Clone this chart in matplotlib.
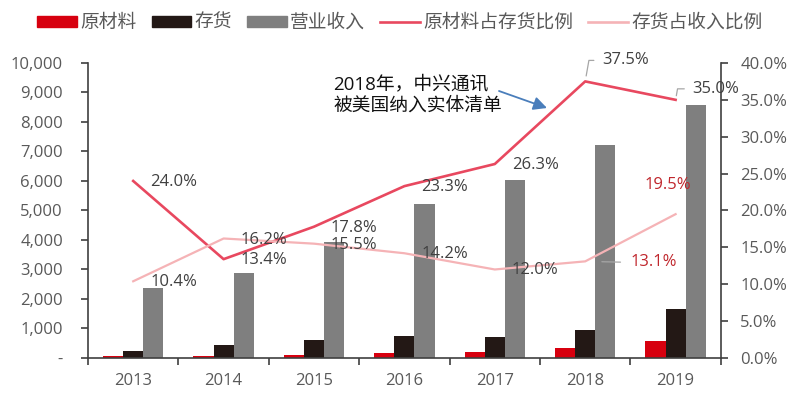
import matplotlib
matplotlib.use("Agg")
import matplotlib.pyplot as plt
import numpy as np
from matplotlib.patches import Patch
from matplotlib.lines import Line2D
from matplotlib.ticker import FuncFormatter, FixedLocator

plt.rcParams['font.family'] = ['Open Sans', 'Noto Sans CJK SC', 'DejaVu Sans']

years = ['2013', '2014', '2015', '2016', '2017', '2018', '2019']
raw_material = [60, 60, 109, 174, 190, 354, 585]
inventory = [250, 455, 610, 745, 724, 950, 1670]
revenue = [2370, 2880, 3940, 5210, 6030, 7210, 8580]
raw_to_inv = [24.0, 13.4, 17.8, 23.3, 26.3, 37.5, 35.0]
inv_to_rev = [10.4, 16.2, 15.5, 14.2, 12.0, 13.1, 19.5]

legend_labels = ['原材料', '存货', '营业收入', '原材料占存货比例', '存货占收入比例']
note_text = '2018年，中兴通讯\n被美国纳入实体清单'

c_red = '#D7000F'
c_black = '#231815'
c_grey = '#7F7F7F'
c_line1 = '#E8485F'
c_line2 = '#F5B3B6'
c_tick = '#595959'
c_lab = '#404040'

fig = plt.figure(figsize=(8, 3.96), dpi=100)
ax = fig.add_axes([0.11, 0.096, 0.791, 0.745])
ax2 = ax.twinx()

x = np.arange(len(years))
w = 0.222
ax.bar(x - w, raw_material, w, color=c_red, zorder=2)
ax.bar(x, inventory, w, color=c_black, zorder=2)
ax.bar(x + w, revenue, w, color=c_grey, zorder=2)

ax.set_xlim(-0.5, len(years) - 0.5)
ax.set_ylim(0, 10000)
ax.set_yticks(np.arange(0, 10001, 1000))
ax.yaxis.set_major_formatter(FuncFormatter(lambda v, p: '-' if v == 0 else f'{v:,.0f}'))

ax.xaxis.set_major_locator(FixedLocator(np.arange(-0.5, len(years), 1.0)))
ax.xaxis.set_major_formatter(FuncFormatter(lambda v, p: ''))
ax.xaxis.set_minor_locator(FixedLocator(x))
ax.set_xticklabels(years, minor=True)
ax.tick_params(axis='x', which='major', direction='out', length=5, width=1.2, color=c_lab)
ax.tick_params(axis='x', which='minor', length=0, pad=11, labelsize=12, labelcolor=c_tick)
ax.tick_params(axis='y', direction='out', length=5, width=1.2, color=c_lab, pad=13,
               labelsize=12, labelcolor=c_tick)

for s in ['top', 'right']:
    ax.spines[s].set_visible(False)
for s in ['left', 'bottom']:
    ax.spines[s].set_color(c_lab)
    ax.spines[s].set_linewidth(1.2)

ax2.plot(x, raw_to_inv, color=c_line1, lw=1.9, zorder=3)
ax2.plot(x, inv_to_rev, color=c_line2, lw=1.6, zorder=3)
ax2.set_ylim(0, 40)
ax2.set_yticks(np.arange(0, 40.1, 5))
ax2.yaxis.set_major_formatter(FuncFormatter(lambda v, p: f'{v:.1f}%'))
ax2.tick_params(axis='y', direction='out', length=5, width=1.2, color=c_lab, pad=9,
                labelsize=12, labelcolor=c_tick)
for s in ['top', 'left', 'bottom']:
    ax2.spines[s].set_visible(False)
ax2.spines['right'].set_color(c_lab)
ax2.spines['right'].set_linewidth(1.2)

fs = 12
# data labels - raw material / inventory
for i, v in enumerate(raw_to_inv):
    if i == 5:
        ax2.annotate(f'{v:.1f}%', (x[i], v), xytext=(17, 21), textcoords='offset pixels',
                     ha='left', va='center', fontsize=fs, color=c_lab,
                     arrowprops=dict(arrowstyle='-', color='#A6A6A6', lw=0.9, relpos=(0, 0.5),
                                     shrinkA=4, shrinkB=4,
                                     connectionstyle='angle,angleA=0,angleB=80,rad=0'))
    elif i == 6:
        ax2.annotate(f'{v:.1f}%', (x[i], v), xytext=(17, 11), textcoords='offset pixels',
                     ha='left', va='center', fontsize=fs, color=c_lab,
                     arrowprops=dict(arrowstyle='-', color='#A6A6A6', lw=0.9, relpos=(0, 0.5),
                                     shrinkA=4, shrinkB=3,
                                     connectionstyle='angle,angleA=0,angleB=80,rad=0'))
    else:
        ax2.annotate(f'{v:.1f}%', (x[i], v), xytext=(17, -1), textcoords='offset pixels',
                     ha='left', va='center', fontsize=fs, color=c_lab)

# data labels - inventory / revenue
for i, v in enumerate(inv_to_rev):
    if i == 5:
        ax2.annotate(f'{v:.1f}%', (x[i], v), xytext=(45, -1), textcoords='offset pixels',
                     ha='left', va='center', fontsize=fs, color='#C0272D',
                     arrowprops=dict(arrowstyle='-', color='#A6A6A6', lw=0.9, relpos=(0, 0.5),
                                     shrinkA=5, shrinkB=12))
    elif i == 6:
        ax2.annotate(f'{v:.1f}%', (x[i], v), xytext=(-31, 29), textcoords='offset pixels',
                     ha='left', va='center', fontsize=fs, color='#C0272D')
    else:
        ax2.annotate(f'{v:.1f}%', (x[i], v), xytext=(17, -1), textcoords='offset pixels',
                     ha='left', va='center', fontsize=fs, color=c_lab)

# note
fig.text(333 / 800, 1 - 95 / 396, note_text, fontsize=13.5, color='#111111',
         ha='left', va='center', linespacing=1.3, fontweight='medium')
fig.add_artist(matplotlib.patches.FancyArrowPatch(
    (499 / 800, 1 - 91 / 396), (547 / 800, 1 - 108 / 396), transform=fig.transFigure,
    arrowstyle='-|>,head_length=8,head_width=4', color='#4A7EBB', lw=1.3,
    shrinkA=0, shrinkB=0))

handles = [Patch(color=c_red), Patch(color=c_black), Patch(color=c_grey),
           Line2D([], [], color=c_line1, lw=1.9), Line2D([], [], color=c_line2, lw=1.9)]
leg = fig.legend(handles, legend_labels, loc='center', bbox_to_anchor=(0.5, 1 - 23 / 396),
                 ncol=5, frameon=False, fontsize=13.5, handlelength=2.1, handleheight=0.55,
                 handletextpad=0.2, columnspacing=0.8, borderaxespad=0)
for t in leg.get_texts():
    t.set_color(c_tick)

fig.savefig('out.png', dpi=100)
